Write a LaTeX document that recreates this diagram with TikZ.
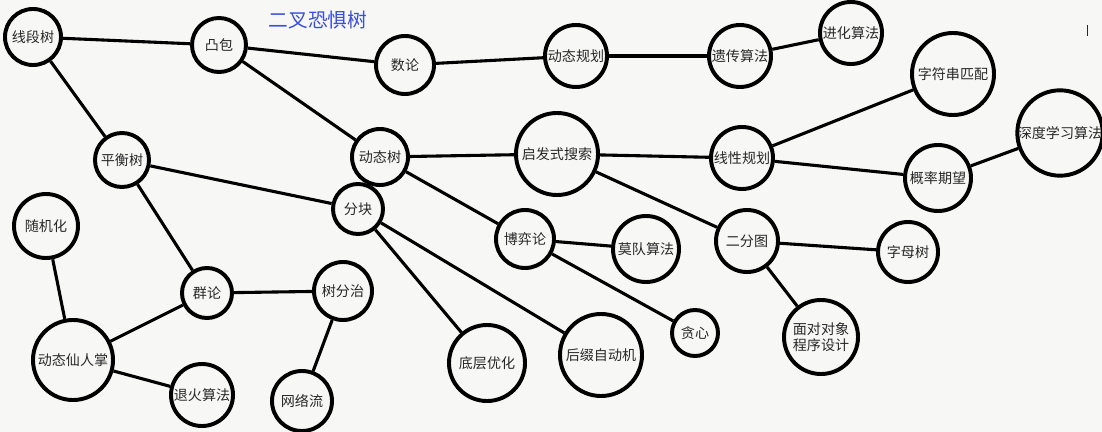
\documentclass[tikz,border=0pt]{standalone}
\usepackage{fontspec}
\newfontfamily\cjk{Noto Sans CJK SC}
\usetikzlibrary{positioning}
\definecolor{PaperGray}{RGB}{247,247,246}
\definecolor{InkGray}{RGB}{40,40,40}
\definecolor{TitleBlue}{RGB}{58,78,226}

\begin{document}
\begin{tikzpicture}[
    x=0.025cm, y=-0.025cm,
    font=\cjk\fontsize{10}{10.5}\selectfont,
    ball/.style={circle, draw=black, line width=2.8pt, fill=PaperGray, text=InkGray,
        inner sep=0pt, align=center, minimum size=#1*1.4226pt},
    link/.style={line width=2.2pt, black},
]

% --- fondo y marco ---
\fill[PaperGray] (0,0) rectangle (1102,432);
\useasboundingbox (0,0) rectangle (1102,432);

% --- titulo ---
\node[text=TitleBlue, font=\cjk\fontsize{14}{14}\selectfont] (title) at (318,20) {二叉恐惧树};
\draw[InkGray, line width=0.6pt] (1087,25) -- (1087,36);

% --- fila superior ---
\node[ball=28] (xdtree) at (33,37) {线段树};
\node[ball=27] (tubao) at (219,45) {凸包};
\node[ball=29] (shulun) at (405,65) {数论};
\node[ball=31] (dp) at (576,56) {动态规划};
\node[ball=31] (yichuan) at (740,56) {遗传算法};
\node[ball=31] (jinhua) at (851,33) {进化算法};
\node[ball=41] (strmatch) at (953,74) {字符串匹配};
\node[ball=42] (deepl) at (1060,133) {深度学习算法};

% --- fila central ---
\node[ball=27] (balance) at (122,160) {平衡树};
\node[ball=28] (lct) at (380,157) {动态树};
\node[ball=41] (heur) at (557,154) {启发式搜索};
\node[ball=31] (linprog) at (742,158) {线性规划};
\node[ball=33] (prob) at (938,178) {概率期望};
\node[ball=25] (block) at (358,209) {分块};
\node[ball=32] (rand) at (46,226) {随机化};
\node[ball=29] (game) at (525,239) {博弈论};
\node[ball=33] (mo) at (646,249) {莫队算法};
\node[ball=31] (bipart) at (747,241) {二分图};
\node[ball=30] (trie) at (908,252) {字母树};

% --- fila inferior ---
\node[ball=25] (group) at (207,293) {群论};
\node[ball=29] (centroid) at (343,291) {树分治};
\node[ball=40] (cactus) at (73,360) {动态仙人掌};
\node[ball=31] (anneal) at (202,395) {退火算法};
\node[ball=30] (flow) at (302,401) {网络流};
\node[ball=38] (lowopt) at (487,363) {底层优化};
\node[ball=41] (sam) at (601,355) {后缀自动机};
\node[ball=23] (greedy) at (695,333) {贪心};
\node[ball=37, font=\cjk\fontsize{10}{11.5}\selectfont] (oop) at (821,337) {面对对象\\程序设计};

% --- aristas ---
\draw[link] (xdtree) -- (tubao);
\draw[link] (xdtree) -- (balance);
\draw[link] (tubao) -- (shulun);
\draw[link] (tubao) -- (lct);
\draw[link] (shulun) -- (dp);
\draw[link] (dp) -- (yichuan);
\draw[link] (yichuan) -- (jinhua);
\draw[link] (lct) -- (heur);
\draw[link] (heur) -- (linprog);
\draw[link] (linprog) -- (strmatch);
\draw[link] (linprog) -- (prob);
\draw[link] (prob) -- (deepl);
\draw[link] (heur) -- (bipart);
\draw[link] (bipart) -- (trie);
\draw[link] (bipart) -- (oop);
\draw[link] (lct) -- (game);
\draw[link] (game) -- (mo);
\draw[link] (game) -- (greedy);
\draw[link] (balance) -- (block);
\draw[link] (balance) -- (group);
\draw[link] (block) -- (lowopt);
\draw[link] (block) -- (sam);
\draw[link] (group) -- (centroid);
\draw[link] (group) -- (cactus);
\draw[link] (centroid) -- (flow);
\draw[link] (rand) -- (cactus);
\draw[link] (cactus) -- (anneal);

\end{tikzpicture}
\end{document}
